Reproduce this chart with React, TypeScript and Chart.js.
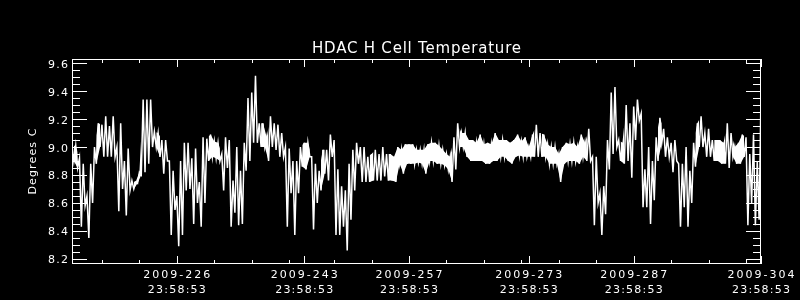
import { useEffect, useRef } from 'react';
import { Chart, registerables } from 'chart.js';

Chart.register(...registerables);

const TITLE = 'HDAC H Cell Temperature';
const Y_TITLE = 'Degrees C';
const X_MIN = 212;
const X_MAX = 304;
const Y_MIN = 8.163;
const Y_MAX = 9.63;
const SAMPLE_START = 212;
const SAMPLE_STEP = 0.5;
const BAND_MAX_SPAN = 0.2;

const xMajorTicks = [226, 243, 257, 273, 287, 304];
const xTickDates = ['2009-226', '2009-243', '2009-257', '2009-273', '2009-287', '2009-304'];
const xTickTimes = ['23:58:53', '23:58:53', '23:58:53', '23:58:53', '23:58:53', '23:58:53'];
const xMinorTicks = [216, 221, 231, 236, 241, 247, 252, 262, 267, 272, 277, 282, 292, 297, 302];

const yMajorTicks = [8.2, 8.4, 8.6, 8.8, 9.0, 9.2, 9.4, 9.6];
const yTickLabels = ['8.2', '8.4', '8.6', '8.8', '9.0', '9.2', '9.4', '9.6'];
const yMinorTicks = [
  8.25, 8.3, 8.35, 8.45, 8.5, 8.55, 8.65, 8.7, 8.75, 8.85, 8.9, 8.95,
  9.05, 9.1, 9.15, 9.25, 9.3, 9.35, 9.45, 9.5, 9.55,
];

// Upper swing of the temperature trace, one value per half day from day 212
const tempHigh = [
  9.01, 9.01, 8.92, 8.88, 8.65, 8.88, 9.00, 9.17, 9.16, 9.22,
  9.15, 9.22, 9.00, 9.17, 8.90, 8.99, 8.76, 8.75, 8.82, 9.34,
  9.34, 9.34, 9.11, 9.10, 9.05, 9.05, 8.90, 8.83, 8.65, 8.90,
  9.03, 9.03, 8.92, 8.99, 8.75, 9.07, 9.06, 9.09, 9.04, 9.03,
  8.95, 9.07, 9.05, 8.76, 9.00, 8.83, 9.03, 9.35, 9.39, 9.51,
  9.17, 9.17, 9.07, 9.22, 9.17, 9.16, 9.10, 9.00, 8.99, 8.90,
  8.90, 9.00, 9.03, 9.03, 8.93, 8.88, 8.83, 8.98, 8.98, 9.09,
  9.05, 8.84, 8.72, 8.69, 8.88, 8.98, 9.03, 9.00, 9.00, 8.93,
  8.95, 8.98, 8.95, 9.00, 8.95, 8.95, 8.93, 9.00, 8.98, 9.02,
  9.02, 9.02, 8.98, 8.98, 8.98, 9.02, 9.03, 9.03, 9.01, 8.98,
  8.95, 8.93, 9.07, 9.17, 9.10, 9.10, 9.05, 9.05, 9.03, 9.09,
  9.02, 9.03, 9.02, 9.10, 9.05, 9.05, 9.05, 9.03, 9.05, 9.09,
  9.04, 9.07, 9.00, 9.09, 9.16, 9.10, 9.09, 9.02, 9.00, 9.00,
  8.95, 9.00, 9.03, 9.02, 9.03, 9.00, 9.09, 9.03, 9.13, 8.93,
  8.93, 8.67, 8.72, 9.05, 9.39, 9.43, 9.05, 9.03, 9.30, 9.17,
  9.29, 9.34, 9.24, 8.84, 9.00, 8.90, 9.07, 9.21, 9.13, 9.07,
  9.03, 9.05, 8.88, 8.88, 9.00, 8.83, 9.03, 9.17, 9.22, 9.10,
  9.13, 9.05, 9.05, 9.05, 9.03, 9.17, 9.10, 9.00, 9.03, 9.09,
  9.07, 8.95, 9.09, 8.90, 9.38,
];

// Lower swing of the temperature trace, same sampling (offset by a quarter day)
const tempLow = [
  8.90, 8.85, 8.43, 8.58, 8.35, 8.60, 8.88, 9.00, 8.93, 8.93,
  8.93, 8.93, 8.54, 8.70, 8.51, 8.69, 8.70, 8.74, 8.80, 8.82,
  8.88, 9.00, 9.00, 8.93, 8.81, 8.90, 8.37, 8.55, 8.29, 8.37,
  8.69, 8.70, 8.45, 8.60, 8.43, 8.60, 8.90, 8.93, 8.92, 8.90,
  8.69, 8.85, 8.43, 8.53, 8.44, 8.45, 8.83, 8.90, 9.03, 9.03,
  9.00, 9.00, 8.90, 9.00, 8.98, 8.93, 8.93, 8.43, 8.67, 8.37,
  8.67, 8.86, 8.84, 8.93, 8.41, 8.60, 8.69, 8.81, 8.76, 8.93,
  8.37, 8.37, 8.43, 8.26, 8.48, 8.69, 8.88, 8.75, 8.75, 8.75,
  8.76, 8.76, 8.76, 8.79, 8.76, 8.76, 8.75, 8.88, 8.81, 8.88,
  8.88, 8.88, 8.89, 8.88, 8.81, 8.90, 8.90, 8.88, 8.88, 8.87,
  8.84, 8.75, 8.84, 9.00, 9.00, 8.93, 8.90, 8.90, 8.90, 8.90,
  8.88, 8.88, 8.90, 8.90, 8.93, 8.93, 8.90, 8.88, 8.93, 8.94,
  8.93, 8.93, 8.93, 8.93, 8.93, 8.93, 8.93, 8.88, 8.88, 8.88,
  8.75, 8.88, 8.90, 8.90, 8.90, 8.88, 8.93, 8.90, 8.90, 8.44,
  8.60, 8.37, 8.52, 8.84, 8.95, 9.00, 8.90, 8.88, 8.90, 8.78,
  9.05, 9.19, 8.57, 8.57, 8.45, 8.62, 8.90, 9.03, 8.93, 8.93,
  8.82, 8.90, 8.43, 8.57, 8.43, 8.60, 8.86, 9.00, 9.00, 8.93,
  8.93, 8.90, 8.90, 8.88, 8.88, 8.85, 8.93, 8.88, 8.88, 8.93,
  8.44, 8.60, 8.44, 8.48, 8.90,
];

const FONT = '"DejaVu Sans", sans-serif';

function drawSpaced(ctx: CanvasRenderingContext2D, text: string, left: number, baseline: number, width: number) {
  (ctx as any).letterSpacing = '0px';
  const w0 = ctx.measureText(text).width;
  const n = Array.from(text).length;
  const sp = n > 1 ? (width - w0) / (n - 1) : 0;
  (ctx as any).letterSpacing = sp + 'px';
  ctx.textAlign = 'left';
  ctx.fillText(text, left, baseline);
  (ctx as any).letterSpacing = '0px';
}

const idlAxes = {
  id: 'idlAxes',
  afterDraw(chart: any) {
    const ctx: CanvasRenderingContext2D = chart.ctx;
    const { left, right, top, bottom } = chart.chartArea;
    const xs = chart.scales.x;
    const ys = chart.scales.y;
    ctx.save();
    ctx.strokeStyle = '#fff';
    ctx.fillStyle = '#fff';
    ctx.lineWidth = 1;
    ctx.strokeRect(left + 0.5, top + 0.5, right - left - 1, bottom - top - 1);
    ctx.beginPath();
    const yTick = (v: number, len: number) => {
      const y = Math.round(ys.getPixelForValue(v)) + 0.5;
      ctx.moveTo(left, y);
      ctx.lineTo(left + len, y);
      ctx.moveTo(right, y);
      ctx.lineTo(right - len, y);
    };
    yMajorTicks.forEach((v) => yTick(v, 15));
    yMinorTicks.forEach((v) => yTick(v, 8));
    const xTick = (v: number, len: number) => {
      const x = Math.round(xs.getPixelForValue(v)) + 0.5;
      ctx.moveTo(x, bottom);
      ctx.lineTo(x, bottom - len);
      ctx.moveTo(x, top);
      ctx.lineTo(x, top + len);
    };
    xMajorTicks.forEach((v) => xTick(v, 8));
    xMinorTicks.forEach((v) => xTick(v, 4));
    ctx.stroke();

    ctx.textBaseline = 'alphabetic';
    ctx.font = `11px ${FONT}`;
    yMajorTicks.forEach((v, i) => {
      const y = ys.getPixelForValue(v);
      drawSpaced(ctx, yTickLabels[i], left - 24, y + 4.5, 20);
    });
    xMajorTicks.forEach((v, i) => {
      const x = xs.getPixelForValue(v);
      drawSpaced(ctx, xTickDates[i], x - 33.5, bottom + 14, 67);
      drawSpaced(ctx, xTickTimes[i], x - 29, bottom + 28.5, 58);
    });

    ctx.font = `15px ${FONT}`;
    const cx = (left + right) / 2;
    drawSpaced(ctx, TITLE, cx - 104.5, 53, 209);

    ctx.font = `11px ${FONT}`;
    ctx.translate(35.5, (top + bottom) / 2);
    ctx.rotate(-Math.PI / 2);
    drawSpaced(ctx, Y_TITLE, -33, 0, 66);
    ctx.restore();
  },
};

export default function App() {
  const ref = useRef<HTMLCanvasElement | null>(null);
  useEffect(() => {
    document.body.style.margin = '0';
    document.body.style.background = '#000';
    const canvas = ref.current;
    if (!canvas) return;
    const trace: { x: number; y: number }[] = [];
    tempHigh.forEach((v, i) => {
      const d = SAMPLE_START + i * SAMPLE_STEP;
      trace.push({ x: d, y: v });
      trace.push({ x: d + SAMPLE_STEP / 2, y: tempLow[i] });
    });
    const hiPts = tempHigh.map((v, i) => ({ x: SAMPLE_START + i * SAMPLE_STEP, y: v }));
    const loPts = tempLow.map((v, i) => ({ x: SAMPLE_START + i * SAMPLE_STEP + SAMPLE_STEP / 2, y: v }));
    const narrow = (i: number) => tempHigh[i] - tempLow[i] <= BAND_MAX_SPAN;
    const chart = new Chart(canvas, {
      type: 'line',
      data: {
        datasets: [
          { data: hiPts, borderColor: 'rgba(0,0,0,0)', borderWidth: 1, pointRadius: 0, tension: 0, fill: false },
          {
            data: loPts,
            borderColor: 'rgba(0,0,0,0)',
            borderWidth: 1,
            pointRadius: 0,
            tension: 0,
            fill: '-1',
            backgroundColor: '#fff',
            segment: {
              backgroundColor: (c: any) =>
                narrow(c.p0DataIndex) && narrow(c.p1DataIndex) ? '#fff' : 'rgba(0,0,0,0)',
            },
          } as any,
          { data: trace, borderColor: '#fff', borderWidth: 1.5, pointRadius: 0, tension: 0, fill: false },
        ],
      },
      options: {
        animation: false,
        responsive: false,
        maintainAspectRatio: false,
        devicePixelRatio: 1,
        layout: { padding: { left: 72, right: 39, top: 59, bottom: 36 } },
        plugins: {
          legend: { display: false },
          title: { display: false },
          tooltip: { enabled: false },
        },
        scales: {
          x: { type: 'linear', min: X_MIN, max: X_MAX, display: false },
          y: { type: 'linear', min: Y_MIN, max: Y_MAX, display: false },
        },
      },
      plugins: [idlAxes],
    });
    return () => chart.destroy();
  }, []);
  return (
    <div style={{ width: 800, height: 300, background: '#000' }}>
      <canvas ref={ref} width={800} height={300} style={{ display: 'block', background: '#000' }} />
    </div>
  );
}
